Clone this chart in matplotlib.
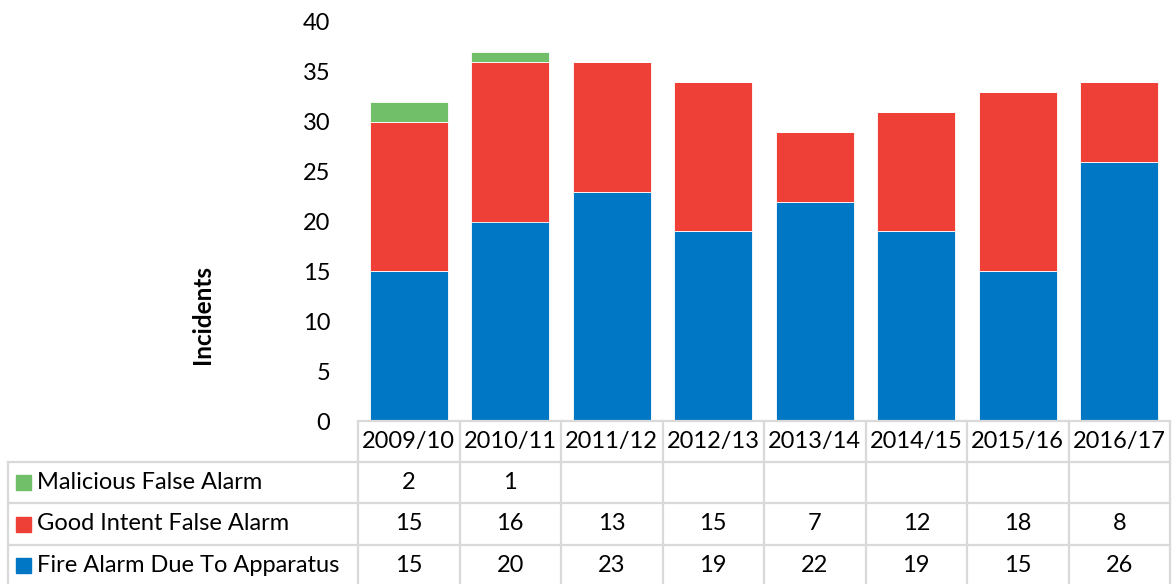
import matplotlib.pyplot as plt
import matplotlib.transforms as mtransforms
import numpy as np

years = ["2009/10", "2010/11", "2011/12", "2012/13", "2013/14", "2014/15", "2015/16", "2016/17"]
series_names = ["Malicious False Alarm", "Good Intent False Alarm", "Fire Alarm Due To Apparatus"]
malicious = [2, 1, 0, 0, 0, 0, 0, 0]
good_intent = [15, 16, 13, 15, 7, 12, 18, 8]
apparatus = [15, 20, 23, 19, 22, 19, 15, 26]
yticks = [0, 5, 10, 15, 20, 25, 30, 35, 40]

colors = {"Malicious False Alarm": "#72BF6A",
          "Good Intent False Alarm": "#EE4036",
          "Fire Alarm Due To Apparatus": "#0077C4"}
grid_color = "#D9D9D9"
font = ["Lato", "DejaVu Sans"]
plt.rcParams["font.family"] = font

W, H = 1172, 584
fig = plt.figure(figsize=(W / 100, H / 100), dpi=100)

left_px, right_px, top_px, bottom_px = 358, 1170, 22, 421
ax = fig.add_axes([left_px / W, 1 - bottom_px / H,
                   (right_px - left_px) / W, (bottom_px - top_px) / H])

x = np.arange(len(years))
width = 0.77
ax.bar(x, apparatus, width, color=colors[series_names[2]], edgecolor="white", linewidth=0.6)
ax.bar(x, good_intent, width, bottom=apparatus, color=colors[series_names[1]],
       edgecolor="white", linewidth=0.6)
bottom2 = np.array(apparatus) + np.array(good_intent)
ax.bar(x, malicious, width, bottom=bottom2, color=colors[series_names[0]],
       edgecolor="white", linewidth=0.6)

fs = 17

ax.set_xlim(-0.5, len(years) - 0.5)
ax.set_ylim(0, 40)
ax.set_yticks(yticks)
ax.tick_params(axis="y", length=0, pad=20, labelsize=fs)
ax.set_xticks([])
for s in ax.spines.values():
    s.set_visible(False)

fig.text(203 / W, 1 - 315 / H, "Incidents", rotation=90, ha="center", va="center",
         fontsize=17.5, fontweight="bold")

# data table below the axes
trans = mtransforms.blended_transform_factory(ax.transData, fig.transFigure)
row_edges = [421, 461.5, 503, 545, 586]
table_left = 8


def fy(py):
    return 1 - py / H


lw = 1.6
# header top line and column separators
fig.add_artist(plt.Line2D([left_px / W, right_px / W], [fy(421), fy(421)],
                          color=grid_color, lw=lw))
for i in range(len(years) + 1):
    xs = i - 0.5
    fig.add_artist(plt.Line2D([xs, xs], [fy(421), fy(586)], color=grid_color, lw=lw,
                              transform=trans))
# horizontal row lines
for py in row_edges[1:]:
    fig.add_artist(plt.Line2D([table_left / W, right_px / W], [fy(py), fy(py)],
                              color=grid_color, lw=lw))
fig.add_artist(plt.Line2D([table_left / W, table_left / W], [fy(461.5), fy(586)],
                          color=grid_color, lw=lw))

for i, yr in enumerate(years):
    fig.text(i, fy((row_edges[0] + row_edges[1]) / 2), yr, ha="center", va="center",
             fontsize=fs, transform=trans)

table_rows = [malicious, good_intent, apparatus]
for r, (name, vals) in enumerate(zip(series_names, table_rows)):
    yc = fy((row_edges[r + 1] + row_edges[r + 2]) / 2)
    fig.patches.append(plt.Rectangle((16 / W, yc - 7.5 / H), 15 / W, 15 / H,
                                     color=colors[name], transform=fig.transFigure,
                                     figure=fig))
    fig.text(37 / W, yc, name, ha="left", va="center", fontsize=fs)
    for i, v in enumerate(vals):
        if v:
            fig.text(i, yc, str(v), ha="center", va="center", fontsize=fs, transform=trans)

fig.savefig("out.png", dpi=100)
